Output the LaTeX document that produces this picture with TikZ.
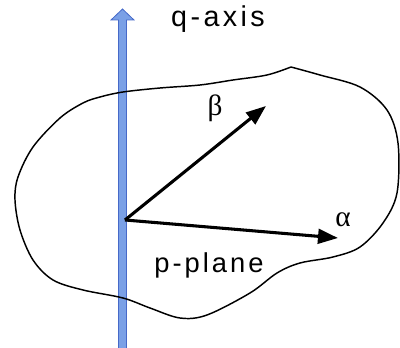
\documentclass[tikz,border=0pt]{standalone}
\usepackage{fontspec}
\setmainfont{Liberation Sans}
\newfontfamily\greekfont{Liberation Serif}
\usetikzlibrary{arrows.meta}
\definecolor{axisfill}{RGB}{122,160,230}
\definecolor{axisdraw}{RGB}{70,105,200}
\tikzset{
  axisarrow/.style={draw=axisdraw, fill=axisfill, line width=0.6pt, line join=miter},
  vec/.style={line width=2.3pt, -{Triangle[length=15pt,width=11pt]}},
  blob/.style={draw=black, line width=1.1pt},
  lbl/.style={inner sep=0pt},
  glbl/.style={font=\fontsize{22}{24}\greekfont, inner sep=0pt}
}
\begin{document}
\begin{tikzpicture}[x=0.75pt,y=-0.75pt]
\useasboundingbox (0,0) rectangle (400,348);
% q-axis (blue arrow)
\path[axisarrow] (118.5,348) -- (118.5,20) -- (111,20) -- (122.5,9) -- (134,20) -- (126.5,20) -- (126.5,348);
% p-plane outline
\draw[blob] plot[smooth, tension=0.55] coordinates {
 (291,67) (267,75) (233,80) (200,85) (160,88) (123,92) (100,97) (83,103) (60,118) (33,147) (18,177) (15,200) (20,230) (33,260) (53,280) (83,290) (123,298) (150,308) (180,318) (207,315) (250,293) (277,273) (300,263) (333,257) (360,247) (383,223) (397,193) (398,143) (387,110) (360,87) (320,75) (291,67)};
% vectors
\coordinate (o) at (125,220);
\coordinate (b) at (266,106);
\coordinate (a) at (338,238);
\draw[vec] (o) -- (b);
\draw[vec] (o) -- (a);
% labels
\node[lbl, anchor=base, font=\fontsize{21.5}{24}\selectfont\addfontfeature{LetterSpace=12}] (q) at (218,27) {q-axis};
\node[lbl, anchor=base, font=\fontsize{20.5}{23}\selectfont\addfontfeature{LetterSpace=11}] (p) at (209,273) {p-plane};
\node[glbl] (beta) at (215,108) {β};
\node[glbl] (alpha) at (343,220) {α};
\end{tikzpicture}
\end{document}
